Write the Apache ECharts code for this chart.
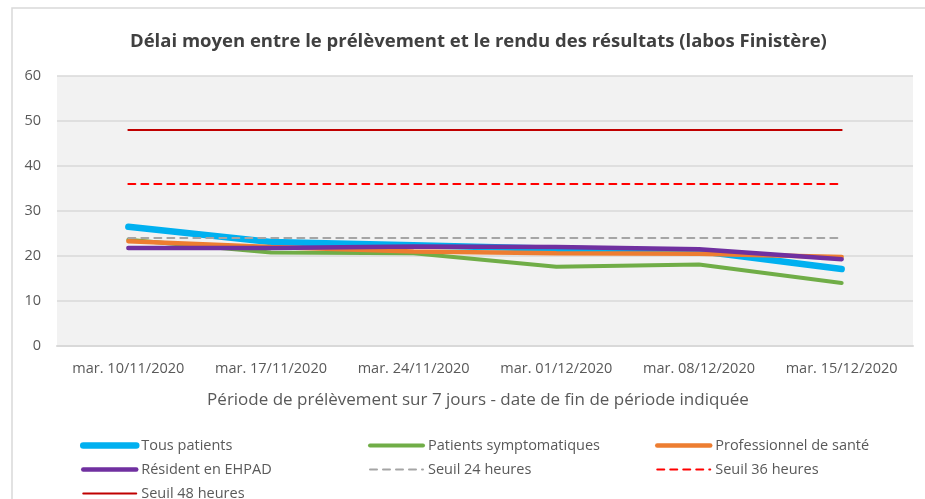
<!DOCTYPE html>
<html>
<head>
<meta charset="utf-8">
<script src="https://cdn.jsdelivr.net/npm/echarts@6/dist/echarts.min.js"></script>
<style>
  html, body { margin: 0; padding: 0; background: #fff; }
  #chart { width: 925px; height: 499px; }
</style>
</head>
<body>
<div id="chart"></div>
<script>
// données
var categories = ['mar. 10/11/2020', 'mar. 17/11/2020', 'mar. 24/11/2020', 'mar. 01/12/2020', 'mar. 08/12/2020', 'mar. 15/12/2020'];
var tousPatients = [26.5, 23.1, 22.4, 21.6, 21.1, 17.1];
var symptomatiques = [23.6, 20.8, 20.6, 17.6, 18.1, 14.0];
var professionnels = [23.3, 22.0, 21.0, 20.6, 20.5, 19.8];
var residents = [21.8, 21.8, 22.1, 22.0, 21.5, 19.3];
var seuil24 = [24, 24, 24, 24, 24, 24];
var seuil36 = [36, 36, 36, 36, 36, 36];
var seuil48 = [48, 48, 48, 48, 48, 48];

var chart = echarts.init(document.getElementById('chart'));
var font = 'Open Sans';

function ligne(name, data, color, width, type) {
  return {
    name: name,
    type: 'line',
    data: data,
    symbol: 'none',
    showSymbol: false,
    lineStyle: { color: color, width: width, type: type || 'solid', cap: 'round' },
    itemStyle: { color: color },
    emphasis: { disabled: true }
  };
}

// entrée de légende avec l'épaisseur du trait
function entree(name, width) {
  return { name: name, lineStyle: { width: width } };
}

var legendBase = {
  orient: 'vertical',
  top: 438,
  height: 70,
  padding: 0,
  itemWidth: 53,
  itemHeight: 14,
  itemGap: 9,
  itemStyle: { opacity: 0 },
  textStyle: { color: '#595959', fontSize: 14.5, lineHeight: 14, fontFamily: font },
  selectedMode: false
};

chart.setOption({
  backgroundColor: '#fff',
  animation: false,
  title: {
    text: 'Délai moyen entre le prélèvement et le rendu des résultats (labos Finistère)',
    left: 125,
    top: 27,
    textStyle: { color: '#404040', fontSize: 18.5, fontWeight: 'bold', fontFamily: font }
  },
  graphic: [{
    type: 'rect',
    shape: { x: 12, y: 8, width: 1000, height: 600 },
    style: { fill: 'none', stroke: '#d9d9d9', lineWidth: 1.5 },
    silent: true
  }],
  legend: [
    Object.assign({}, legendBase, { left: 80, data: [entree('Tous patients', 6.5), entree('Résident en EHPAD', 4.5), entree('Seuil 48 heures', 2)] }),
    Object.assign({}, legendBase, { left: 368, data: [entree('Patients symptomatiques', 4), entree('Seuil 24 heures', 2)] }),
    Object.assign({}, legendBase, { left: 655, data: [entree('Professionnel de santé', 4.5), entree('Seuil 36 heures', 2)] })
  ],
  grid: {
    left: 57, right: 12, top: 76, bottom: 153,
    show: true, backgroundColor: '#f2f2f2', borderWidth: 0
  },
  xAxis: {
    type: 'category',
    data: categories,
    boundaryGap: true,
    axisLine: { show: true, lineStyle: { color: '#d9d9d9', width: 2 } },
    axisTick: { show: false },
    axisLabel: { color: '#595959', fontSize: 14.5, fontFamily: font, interval: 0, margin: 15 },
    name: 'Période de prélèvement sur 7 jours - date de fin de période indiquée',
    nameLocation: 'middle',
    nameGap: 46,
    nameTextStyle: { color: '#595959', fontSize: 17, fontFamily: font, padding: [0, 14, 0, 0] }
  },
  yAxis: {
    type: 'value',
    min: 0,
    max: 60,
    interval: 10,
    axisLine: { show: false },
    axisTick: { show: false },
    axisLabel: { color: '#595959', fontSize: 14.5, fontFamily: font, margin: 16 },
    splitLine: { lineStyle: { color: '#d9d9d9', width: 1.5 } }
  },
  series: [
    ligne('Tous patients', tousPatients, '#00b0f0', 6.5),
    ligne('Patients symptomatiques', symptomatiques, '#70ad47', 4),
    ligne('Professionnel de santé', professionnels, '#ed7d31', 4.5),
    ligne('Résident en EHPAD', residents, '#7030a0', 4.5),
    ligne('Seuil 24 heures', seuil24, '#a5a5a5', 2, [7, 6]),
    ligne('Seuil 36 heures', seuil36, '#ff0000', 2, [7, 6]),
    ligne('Seuil 48 heures', seuil48, '#c00000', 2)
  ]
});
</script>
</body>
</html>
